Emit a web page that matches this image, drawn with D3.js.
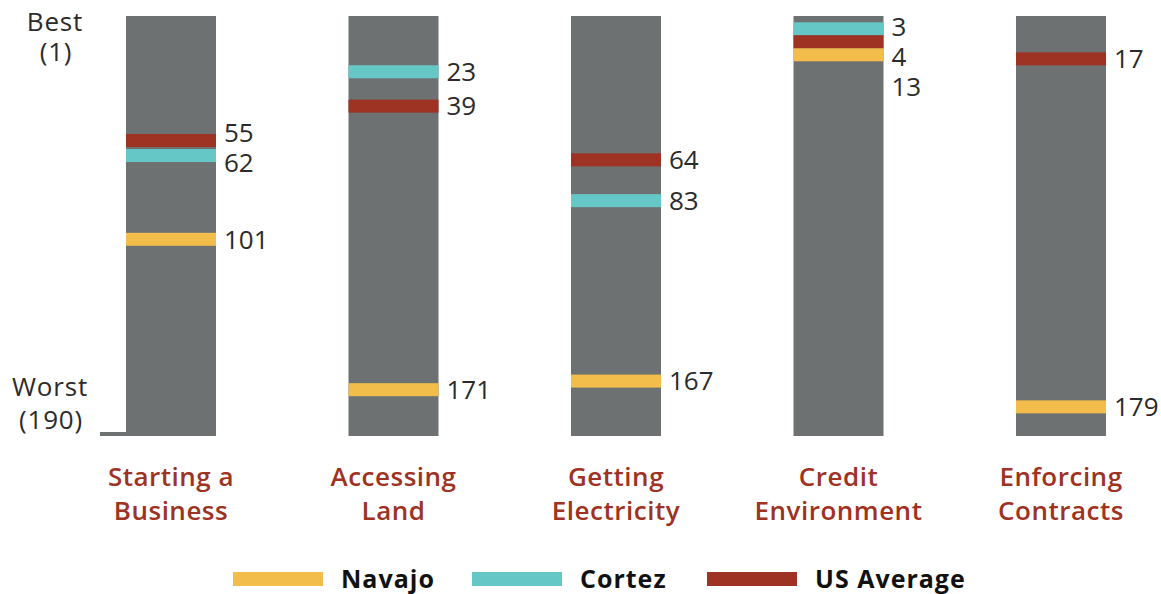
<!DOCTYPE html>
<html>
<head>
<meta charset="utf-8">
<script src="https://cdn.jsdelivr.net/npm/d3@7"></script>
<style>
  html, body { margin: 0; padding: 0; background: #fff; }
  svg { display: block; }
  text { font-family: "Open Sans", "DejaVu Sans", sans-serif; }
</style>
</head>
<body>
<svg id="chart" width="1161" height="594"></svg>
<script>
// Ranking categories (rank 1 = best, 190 = worst)
const categories = ["Starting a Business", "Accessing Land", "Getting Electricity", "Credit Environment", "Enforcing Contracts"];
const categoryLines = [["Starting a", "Business"], ["Accessing", "Land"], ["Getting", "Electricity"], ["Credit", "Environment"], ["Enforcing", "Contracts"]];
const seriesNames = ["Navajo", "Cortez", "US Average"];
const navajo = [101, 171, 167, 13, 179];
const cortez = [62, 23, 83, 3, null];
const usAverage = [55, 39, 64, 4, 17];
const rankDomain = [1, 190];
const rankLabels = ["Best", "(1)", "Worst", "(190)"];

const colors = { "Navajo": "#f2bd4b", "Cortez": "#66c8c6", "US Average": "#9e3223" };
const gray = "#6e7172";
const seriesValues = { "Navajo": navajo, "Cortez": cortez, "US Average": usAverage };

const svg = d3.select("#chart");
const colTop = 16, colBottom = 436, colW = 90, stripeH = 13;

const x = d3.scalePoint().domain(categories).range([171, 1061]);
const y = d3.scaleLinear().domain(rankDomain).range([colTop + 8.5, colTop + 414.5]);

// Worst-rank baseline stub
svg.append("rect").attr("x", 100).attr("y", 432).attr("width", 26).attr("height", 4).attr("fill", gray);

// Axis end labels
const endLabels = svg.append("g").attr("fill", "#2b2b2b").attr("font-size", 26)
  .attr("letter-spacing", 0.8).attr("text-anchor", "middle");
endLabels.append("text").attr("x", 55).attr("y", 31).text(rankLabels[0]);
endLabels.append("text").attr("x", 56).attr("y", 61).text(rankLabels[1]);
endLabels.append("text").attr("x", 50).attr("y", 396).text(rankLabels[2]);
endLabels.append("text").attr("x", 51).attr("y", 429).text(rankLabels[3]);

categories.forEach((cat, i) => {
  const cx = x(cat) - colW / 2;
  const g = svg.append("g");
  g.append("rect").attr("x", cx).attr("y", colTop).attr("width", colW).attr("height", colBottom - colTop).attr("fill", gray);

  // marks for this category, sorted by rank
  const marks = seriesNames
    .map(s => ({ series: s, value: seriesValues[s][i] }))
    .filter(d => d.value != null)
    .sort((a, b) => a.value - b.value);

  // stripes: positioned from the scale, nudged down when they would overlap
  let prevBottom = -Infinity;
  marks.forEach(m => {
    let c = y(m.value);
    if (c - stripeH / 2 < prevBottom) c = prevBottom + stripeH / 2;
    m.cy = c;
    prevBottom = c + stripeH / 2;
  });
  g.selectAll("rect.stripe").data(marks).join("rect")
    .attr("class", "stripe")
    .attr("x", cx).attr("width", colW)
    .attr("y", d => d.cy - stripeH / 2).attr("height", stripeH)
    .attr("fill", d => colors[d.series]);

  // value labels, relaxed apart so they don't collide, kept below the column top
  const minGap = 30, minY = colTop + 11;
  marks.forEach(m => m.ly = m.cy);
  for (let it = 0; it < 60; it++) {
    for (let k = 1; k < marks.length; k++) {
      const a = marks[k - 1], b = marks[k];
      const d = b.ly - a.ly;
      if (d < minGap) {
        const push = (minGap - d) / 2;
        a.ly -= push; b.ly += push;
      }
    }
    if (marks.length && marks[0].ly < minY) {
      const s = minY - marks[0].ly;
      marks.forEach(m => m.ly += s);
    }
  }
  g.selectAll("text.val").data(marks).join("text")
    .attr("class", "val")
    .attr("x", cx + colW + 8)
    .attr("y", d => d.ly)
    .attr("dy", "0.36em")
    .attr("font-size", 26)
    .attr("fill", "#2b2b2b")
    .text(d => d.value);

  // category label
  const t = svg.append("text")
    .attr("x", cx + colW / 2).attr("y", 486)
    .attr("text-anchor", "middle")
    .attr("font-size", 26).attr("font-weight", 600)
    .attr("letter-spacing", 0.5)
    .attr("fill", "#9e3223");
  categoryLines[i].forEach((line, j) => {
    t.append("tspan").attr("x", cx + colW / 2).attr("dy", j === 0 ? 0 : 34).text(line);
  });
});

// Legend
const legendX = [233, 472, 707];
const legend = svg.append("g");
seriesNames.forEach((s, i) => {
  legend.append("rect").attr("x", legendX[i]).attr("y", 572).attr("width", 90).attr("height", 14).attr("fill", colors[s]);
  legend.append("text").attr("x", legendX[i] + 108).attr("y", 579).attr("dy", "0.36em")
    .attr("font-size", 25).attr("font-weight", 700).attr("letter-spacing", 1)
    .attr("fill", "#111").text(s);
});
</script>
</body>
</html>
